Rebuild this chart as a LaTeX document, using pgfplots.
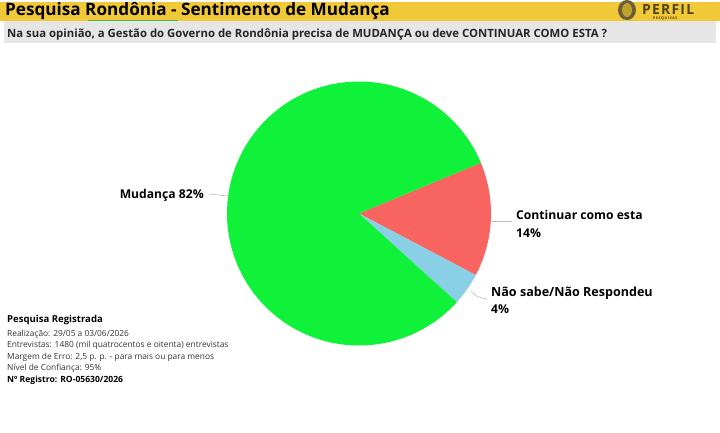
\documentclass[border=0pt]{standalone}
\usepackage{pgfplots}
\pgfplotsset{compat=1.18}
\usepackage{pgfplotstable}
\usepackage{fontspec}
\setmainfont{Open Sans}
\definecolor{hdr}{RGB}{240,200,56}
\definecolor{qbar}{RGB}{230,230,230}
\definecolor{cgreen}{RGB}{16,242,58}
\definecolor{cred}{RGB}{248,101,96}
\definecolor{cblue}{RGB}{137,207,229}
\definecolor{logo}{RGB}{80,66,20}
\definecolor{leader}{RGB}{190,190,190}

\pgfplotstableread{
label value
Continuar 14
NaoSabe 4
Mudanca 82
}\piedata

\begin{document}
\begin{tikzpicture}
\pgfplotstablegetelem{0}{value}\of\piedata \pgfmathsetmacro{\vA}{\pgfplotsretval}
\pgfplotstablegetelem{1}{value}\of\piedata \pgfmathsetmacro{\vB}{\pgfplotsretval}
\pgfplotstablegetelem{2}{value}\of\piedata \pgfmathsetmacro{\vC}{\pgfplotsretval}
\pgfmathsetmacro{\aS}{22.6}
\pgfmathsetmacro{\aA}{\aS-3.6*\vA}
\pgfmathsetmacro{\aB}{\aA-3.6*\vB}
\pgfmathsetmacro{\aC}{\aB-3.6*\vC}
\pgfmathsetmacro{\cx}{359}
\pgfmathsetmacro{\cy}{430-211.5}
\begin{axis}[x=1bp,y=1bp,xmin=0,xmax=720,ymin=0,ymax=430,hide axis,clip=false]
% background and header
\fill[white] (axis cs:0,0) rectangle (axis cs:720,430);
\fill[hdr] (axis cs:0,430-19) rectangle (axis cs:720,430);
\fill[qbar] (axis cs:4,430-41) rectangle (axis cs:716,430-19);
\node[anchor=base west, inner sep=0pt, font=\bfseries\fontsize{17.2}{20}\selectfont] at (axis cs:5,430-14) {Pesquisa Rondônia - Sentimento de Mudança};
\draw[green!60!black!70, line width=0.5bp] (axis cs:88,430-18) -- (axis cs:178,430-18);
\node[anchor=base west, inner sep=0pt, text=black!85, font=\bfseries\fontsize{11.4}{13}\selectfont] at (axis cs:7,430-36) {Na sua opinião, a Gestão do Governo de Rondônia precisa de MUDANÇA ou deve CONTINUAR COMO ESTA ?};
% logo
\fill[logo!85] (axis cs:627,430-8) ellipse [x radius=9bp, y radius=10bp];
\fill[hdr!70!logo] (axis cs:627,430-8) ellipse [x radius=5bp, y radius=7bp];
\node[anchor=base west, inner sep=0pt, text=logo, font=\bfseries\fontsize{14}{16}\selectfont] at (axis cs:642,430-12.5) {P\kern1.2bp E\kern1.2bp R\kern1.2bp F\kern1.2bp I\kern1.2bp L};
\node[anchor=base west, inner sep=0pt, text=logo, font=\bfseries\fontsize{3.6}{4}\selectfont] at (axis cs:653,430-17.5) {P\,E\,S\,Q\,U\,I\,S\,A\,S};
% pie slices from data
\fill[cred] (axis cs:\cx,\cy) -- ++(\aS:132bp) arc[start angle=\aS, end angle=\aA, radius=132bp] -- cycle;
\fill[cblue] (axis cs:\cx,\cy) -- ++(\aA:132bp) arc[start angle=\aA, end angle=\aB, radius=132bp] -- cycle;
\fill[cgreen] (axis cs:\cx,\cy) -- ++(\aB:132bp) arc[start angle=\aB, end angle=\aC, radius=132bp] -- cycle;
% leader lines
\draw[leader, line width=0.6bp] (axis cs:209,430-192) -- (axis cs:228,430-194);
\draw[leader, line width=0.6bp] (axis cs:492,430-219) -- (axis cs:512,430-219);
\draw[leader, line width=0.6bp] (axis cs:471,430-289) .. controls (axis cs:477,430-295) .. (axis cs:487,430-297);
% labels
\node[anchor=base east, inner sep=0pt, font=\bfseries\fontsize{12.2}{15}\selectfont] at (axis cs:204,430-196) {Mudança 82\%};
\node[anchor=base west, inner sep=0pt, font=\bfseries\fontsize{12.2}{15}\selectfont] at (axis cs:516,430-217) {Continuar como esta};
\node[anchor=base west, inner sep=0pt, font=\bfseries\fontsize{12.2}{15}\selectfont] at (axis cs:516,430-235) {14\%};
\node[anchor=base west, inner sep=0pt, font=\bfseries\fontsize{12.6}{15}\selectfont] at (axis cs:491,430-294) {Não sabe/Não Respondeu};
\node[anchor=base west, inner sep=0pt, font=\bfseries\fontsize{12.2}{15}\selectfont] at (axis cs:491,430-311) {4\%};
% footnote
\node[anchor=base west, inner sep=0pt, font=\bfseries\fontsize{9.6}{11}\selectfont] at (axis cs:7,430-320) {Pesquisa Registrada};
\node[anchor=base west, inner sep=0pt, text=black!80, font=\fontsize{8.4}{10}\selectfont] at (axis cs:7,430-334) {Realização: 29/05 a 03/06/2026};
\node[anchor=base west, inner sep=0pt, text=black!80, font=\fontsize{8.4}{10}\selectfont] at (axis cs:7,430-345.5) {Entrevistas: 1480 (mil quatrocentos e oitenta) entrevistas};
\node[anchor=base west, inner sep=0pt, text=black!80, font=\fontsize{8.4}{10}\selectfont] at (axis cs:7,430-357) {Margem de Erro: 2,5 p. p. - para mais ou para menos};
\node[anchor=base west, inner sep=0pt, text=black!80, font=\fontsize{8.4}{10}\selectfont] at (axis cs:7,430-368) {Nível de Confiança: 95\%};
\node[anchor=base west, inner sep=0pt, font=\bfseries\fontsize{8.6}{10}\selectfont] at (axis cs:7,430-380) {Nº Registro: RO-05630/2026};
\end{axis}
\end{tikzpicture}
\end{document}
